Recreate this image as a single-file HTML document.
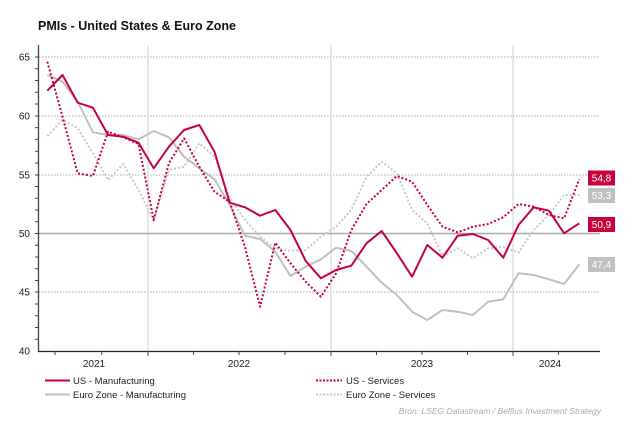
<!DOCTYPE html>
<html><head><meta charset="utf-8"><style>
body{margin:0;background:#fff}
svg{display:block;font-family:"Liberation Sans",sans-serif}
</style></head><body>
<svg width="633" height="429" viewBox="0 0 633 429">
<text x="38" y="30" font-size="12.5" font-weight="bold" fill="#111">PMIs - United States &amp; Euro Zone</text>
<g stroke="#aaa" stroke-width="1" stroke-dasharray="1.5,1.5">
<line x1="39" y1="57" x2="600" y2="57"/>
<line x1="39" y1="116" x2="600" y2="116"/>
<line x1="39" y1="175" x2="600" y2="175"/>
<line x1="39" y1="292" x2="600" y2="292"/>
</g>
<g stroke="#d0d0d0" stroke-width="1">
<line x1="148" y1="45" x2="148" y2="351"/>
<line x1="331" y1="45" x2="331" y2="351"/>
<line x1="513" y1="45" x2="513" y2="351"/>
</g>
<line x1="39" y1="233.5" x2="600" y2="233.5" stroke="#aaa" stroke-width="1.6"/>
<line x1="38.5" y1="45" x2="38.5" y2="352" stroke="#444" stroke-width="1.3"/>
<line x1="38" y1="351.5" x2="600" y2="351.5" stroke="#222" stroke-width="1.2"/>
<g stroke="#444" stroke-width="1">
<path d="M35 57H39M35 68.8H39M35 80.5H39M35 92.3H39M35 104H39M35 116H39M35 127.6H39M35 139.4H39M35 151.2H39M35 163H39M35 175H39M35 186.5H39M35 198.3H39M35 210H39M35 221.8H39M35 233.5H39M35 245.3H39M35 257H39M35 268.8H39M35 280.5H39M35 292H39M35 304H39M35 315.8H39M35 327.5H39M35 339.3H39"/>
<path d="M55 351V355M101.7 351V355M148 351V356M193.5 351V355M239 351V355M285 351V355M331 351V356M376.5 351V355M422 351V355M467.5 351V355M513 351V356M558.5 351V355"/>
</g>
<g font-size="10" fill="#222" text-anchor="end">
<text x="30" y="60.5">65</text><text x="30" y="119.5">60</text><text x="30" y="178.5">55</text>
<text x="30" y="237">50</text><text x="30" y="295.5">45</text><text x="30" y="354.5">40</text>
</g>
<g font-size="10" fill="#222" text-anchor="middle">
<text x="94" y="367">2021</text><text x="239" y="367">2022</text><text x="422" y="367">2023</text><text x="550" y="367">2024</text>
</g>
<g fill="none" stroke-linejoin="round">
<polyline stroke="#c8c8c8" stroke-width="2" stroke-dasharray="2,2" points="47.3,136 62.5,120 77.7,128.3 92.9,153.3 108.1,180 123.3,164 138.5,190 153.7,220.7 168.9,170 184.1,166.7 199.3,143.3 214.5,156.7 229.7,198.3 244.9,220 260.1,236.7 275.3,248.3 290.5,250.7 305.7,250 320.9,236.7 336.1,226.7 351.3,210 366.5,176.7 381.7,161.7 396.9,173.3 412.1,210 427.3,223.3 442.5,256 457.7,248.3 472.9,258.3 488.1,248.3 503.3,246.7 518.5,252.7 533.7,230 548.9,215 564.1,195 579.3,195"/>
<polyline stroke="#c0c0c0" stroke-width="2" points="47.3,75 62.5,81.7 77.7,101.7 92.9,132.3 108.1,135 123.3,135 138.5,139.3 153.7,131 168.9,137.3 184.1,156.7 199.3,168.3 214.5,179.3 229.7,205 244.9,235.7 260.1,239 275.3,251.7 290.5,276 305.7,266.7 320.9,259.3 336.1,247.7 351.3,251 366.5,266.7 381.7,282.7 396.9,295 412.1,311.7 427.3,320 442.5,310 457.7,311.7 472.9,315 488.1,301.7 503.3,299.3 518.5,273.3 533.7,275 548.9,279.3 564.1,284 579.3,264.3"/>
<polyline stroke="#c8003c" stroke-width="2" stroke-dasharray="2,2" points="47.3,61.7 62.5,116.7 77.7,173.3 92.9,176 108.1,131.7 123.3,137.3 138.5,144 153.7,220 168.9,163.3 184.1,138.3 199.3,166.7 214.5,191.7 229.7,201.7 244.9,246.7 260.1,306.7 275.3,242.7 290.5,263.3 305.7,281.7 320.9,296.7 336.1,273.3 351.3,230 366.5,204 381.7,190 396.9,176 412.1,181.7 427.3,205 442.5,226.7 457.7,232.3 472.9,226.7 488.1,224 503.3,217.3 518.5,204 533.7,206.7 548.9,215 564.1,218.3 579.3,179.3"/>
<polyline stroke="#c8003c" stroke-width="2" points="47.3,90.7 62.5,75 77.7,102.7 92.9,107.7 108.1,135 123.3,136.7 138.5,142.7 153.7,168.3 168.9,146.7 184.1,130 199.3,125 214.5,151.7 229.7,202.7 244.9,207.3 260.1,215.7 275.3,210 290.5,230 305.7,261 320.9,278.3 336.1,270 351.3,265.7 366.5,243.3 381.7,231 396.9,253.3 412.1,276.7 427.3,245 442.5,257.7 457.7,235.7 472.9,234 488.1,240 503.3,257.7 518.5,225 533.7,207.3 548.9,210.7 564.1,233.3 579.3,223.3"/>
</g>
<g font-size="10" fill="#fff" text-anchor="middle">
<rect x="588" y="170.5" width="27" height="15" fill="#c8003c"/><text x="601.5" y="181.5">54,8</text>
<rect x="588" y="188" width="27" height="15" fill="#c0c0c0"/><text x="601.5" y="199">53,3</text>
<rect x="588" y="217" width="27" height="15" fill="#c8003c"/><text x="601.5" y="228">50,9</text>
<rect x="588" y="257" width="27" height="15" fill="#c0c0c0"/><text x="601.5" y="268">47,4</text>
</g>
<g font-size="9.5" fill="#222">
<line x1="45" y1="380.5" x2="70" y2="380.5" stroke="#c8003c" stroke-width="2"/>
<text x="73" y="384">US - Manufacturing</text>
<line x1="45" y1="394.5" x2="70" y2="394.5" stroke="#c0c0c0" stroke-width="2"/>
<text x="73" y="398">Euro Zone - Manufacturing</text>
<line x1="316" y1="380.5" x2="342" y2="380.5" stroke="#c8003c" stroke-width="2" stroke-dasharray="2,1.5"/>
<text x="346" y="384">US - Services</text>
<line x1="316" y1="394.5" x2="342" y2="394.5" stroke="#c8c8c8" stroke-width="2" stroke-dasharray="2,1.5"/>
<text x="346" y="398">Euro Zone - Services</text>
</g>
<text x="601" y="414" font-size="8.5" font-style="italic" fill="#aaa" text-anchor="end">Bron: LSEG Datastream / Belfius Investment Strategy</text>
</svg>
</body></html>
